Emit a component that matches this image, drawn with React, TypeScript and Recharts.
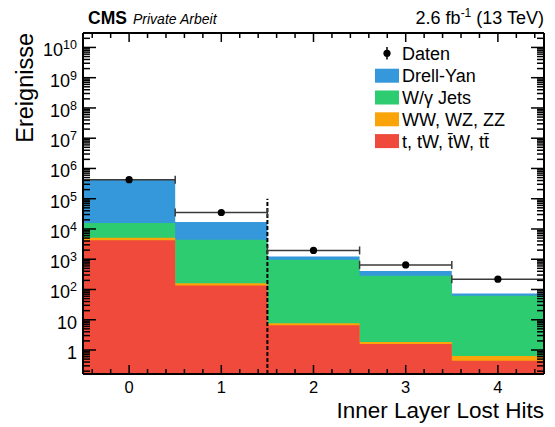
import React from 'react';
import {
  ComposedChart,
  Area,
  Scatter,
  ErrorBar,
  XAxis,
  YAxis,
  ReferenceLine,
} from 'recharts';

// Histogram binning: one bin per number of lost inner-layer hits
const BIN_EDGES = [-0.5, 0.5, 1.5, 2.5, 3.5, 4.5];
const BIN_CENTERS = [0, 1, 2, 3, 4];

// Event yields per bin
const DATEN = [425000, 35000, 1950, 650, 220];
const DRELL_YAN = [414300, 12600, 275, 123, 11.5];
const W_GAMMA_JETS = [10600, 4240, 947, 280, 60.9];
const DIBOSON = [900, 27, 1.0, 0.26, 0.19];
const TOP = [4200, 135, 6.6, 1.58, 0.44];

// Selection cut drawn as a dashed line
const CUT_X = 1.5;
const CUT_LINE_TOP = 1.0e5;

// Axis ranges and ticks
const X_DOMAIN: [number, number] = [-0.5, 4.5];
const X_MAJOR = [0, 1, 2, 3, 4];
const X_LABELS = ['0', '1', '2', '3', '4'];
const X_MINOR_STEP = 0.2;

const Y_MIN = 0.161;
const Y_MAX = 3.0e10;
const Y_DECADES = [0.1, 1, 10, 1e2, 1e3, 1e4, 1e5, 1e6, 1e7, 1e8, 1e9, 1e10];
const Y_LABELLED = [1, 10, 1e2, 1e3, 1e4, 1e5, 1e6, 1e7, 1e8, 1e9, 1e10];

const COLORS = {
  dy: '#3498db',
  wj: '#2ecc71',
  vv: '#fba40a',
  top: '#ef4a3b',
};

const FONT = '"Liberation Sans", Arial, Helvetica, sans-serif';

// Stacked cumulative table over bin edges (last edge repeats the last bin)
const stackTable = BIN_EDGES.map((x, i) => {
  const b = Math.min(i, BIN_CENTERS.length - 1);
  const top = TOP[b];
  const vv = top + DIBOSON[b];
  const wj = vv + W_GAMMA_JETS[b];
  const dy = wj + DRELL_YAN[b];
  return { x, top, vv, wj, dy };
});

const dataPoints = BIN_CENTERS.map((x, i) => ({ x, y: DATEN[i], xerr: 0.5 }));

// Tick values
const xTicks: number[] = [];
for (let v = X_DOMAIN[0] + 0.1; v < X_DOMAIN[1]; v += X_MINOR_STEP) {
  xTicks.push(Math.round(v * 10) / 10);
}
const yTicks: number[] = [];
Y_DECADES.forEach((d) => {
  for (let m = 1; m <= 9; m++) {
    const v = m * d;
    if (v >= Y_MIN && v <= Y_MAX) yTicks.push(v);
  }
});

const isXMajor = (v: number) => X_MAJOR.some((m) => Math.abs(m - v) < 1e-6);
const isYMajor = (v: number) =>
  Y_LABELLED.some((m) => Math.abs(m - v) / m < 1e-6);

const TICK_STROKE = 1.5;

const BottomTick = (props: any) => {
  const { x, y, payload } = props;
  const v = payload.value;
  const major = isXMajor(v);
  const len = major ? 9 : 5;
  const idx = X_MAJOR.findIndex((m) => Math.abs(m - v) < 1e-6);
  return (
    <g>
      <line x1={x} x2={x} y1={y} y2={y - len} stroke="#000" strokeWidth={TICK_STROKE} />
      {major && (
        <text x={x} y={y + 18.5} textAnchor="middle" fontFamily={FONT} fontSize={16.5} fill="#000">
          {X_LABELS[idx]}
        </text>
      )}
    </g>
  );
};

const TopTick = (props: any) => {
  const { x, y, payload } = props;
  const len = isXMajor(payload.value) ? 9 : 5;
  return <line x1={x} x2={x} y1={y} y2={y + len} stroke="#000" strokeWidth={TICK_STROKE} />;
};

const LeftTick = (props: any) => {
  const { x, y, payload } = props;
  const v = payload.value;
  const major = isYMajor(v);
  const len = major ? 13 : 7;
  let label: React.ReactNode = null;
  if (major) {
    const exp = Math.round(Math.log10(v));
    label = (
      <text x={x - 6} y={y + 9} textAnchor="end" fontFamily={FONT} fontSize={18} fill="#000">
        {exp === 0 ? '1' : exp === 1 ? '10' : (
          <>
            <tspan>10</tspan>
            <tspan dy={-7} fontSize={12.5}>{exp}</tspan>
          </>
        )}
      </text>
    );
  }
  return (
    <g>
      <line x1={x} x2={x + len} y1={y} y2={y} stroke="#000" strokeWidth={TICK_STROKE} />
      {label}
    </g>
  );
};

const RightTick = (props: any) => {
  const { x, y, payload } = props;
  const len = isYMajor(payload.value) ? 13 : 7;
  return <line x1={x} x2={x - len} y1={y} y2={y} stroke="#000" strokeWidth={TICK_STROKE} />;
};

const DataDot = (props: any) => {
  const { cx, cy } = props;
  if (cx == null || cy == null) return null;
  return <circle cx={cx} cy={cy} r={3.6} fill="#000" />;
};

const LEGEND = [
  { label: 'Drell-Yan', color: COLORS.dy },
  { label: 'W/\u03b3 Jets', color: COLORS.wj },
  { label: 'WW, WZ, ZZ', color: COLORS.vv },
  { label: 't, tW, t\u0304W, tt\u0304', color: COLORS.top },
];

const Overlay = () => (
  <svg
    width={555}
    height={427}
    style={{ position: 'absolute', left: 0, top: 0, pointerEvents: 'none' }}
  >
    <g fontFamily={FONT} fill="#000">
      <text x={88} y={24} fontSize={17.5} fontWeight="bold">CMS</text>
      <text x={133} y={24} fontSize={14} fontStyle="italic">Private Arbeit</text>
      <text x={544} y={24} fontSize={18} textAnchor="end">
        <tspan>2.6 fb</tspan>
        <tspan dy={-7} fontSize={12}>-1</tspan>
        <tspan dy={7}> (13 TeV)</tspan>
      </text>

      <text
        transform="translate(33,33) rotate(-90)"
        textAnchor="end"
        fontSize={23.5}
      >
        Ereignisse
      </text>
      <text x={544} y={418} textAnchor="end" fontSize={22.5}>
        Inner Layer Lost Hits
      </text>

      {/* legend */}
      <line x1={387} x2={387} y1={47} y2={59.5} stroke="#000" strokeWidth={1.5} />
      <circle cx={387} cy={53.3} r={3.6} fill="#000" />
      <text x={402} y={59.6} fontSize={18}>Daten</text>
      {LEGEND.map((e, i) => {
        const cy = 75.7 + i * 21.8;
        return (
          <g key={e.label}>
            <rect x={375} y={cy - 7} width={24} height={14} fill={e.color} />
            <text x={402} y={cy + 6.4} fontSize={18}>{e.label}</text>
          </g>
        );
      })}
    </g>
  </svg>
);

export default function App() {
  return (
    <div style={{ position: 'absolute', left: 0, top: 0, width: 555, height: 427, background: '#fff' }}>
      <ComposedChart
        width={555}
        height={427}
        data={stackTable}
        margin={{ top: 0, right: 0, bottom: 0, left: 0 }}
      >
        <XAxis
          xAxisId="b"
          dataKey="x"
          type="number"
          orientation="bottom"
          domain={X_DOMAIN}
          allowDataOverflow
          ticks={xTicks}
          interval={0}
          height={53}
          tickSize={0}
          tickMargin={0}
          tickLine={false}
          axisLine={{ stroke: '#000', strokeWidth: 2 }}
          tick={BottomTick}
        />
        <XAxis
          xAxisId="t"
          dataKey="x"
          type="number"
          orientation="top"
          domain={X_DOMAIN}
          allowDataOverflow
          ticks={xTicks}
          interval={0}
          height={33}
          tickSize={0}
          tickMargin={0}
          tickLine={false}
          axisLine={{ stroke: '#000', strokeWidth: 2 }}
          tick={TopTick}
        />
        <YAxis
          yAxisId="l"
          orientation="left"
          type="number"
          scale="log"
          domain={[Y_MIN, Y_MAX]}
          allowDataOverflow
          ticks={yTicks}
          interval={0}
          width={83}
          tickSize={0}
          tickMargin={0}
          tickLine={false}
          axisLine={{ stroke: '#000', strokeWidth: 2 }}
          tick={LeftTick}
        />
        <YAxis
          yAxisId="r"
          orientation="right"
          type="number"
          scale="log"
          domain={[Y_MIN, Y_MAX]}
          allowDataOverflow
          ticks={yTicks}
          interval={0}
          width={11}
          tickSize={0}
          tickMargin={0}
          tickLine={false}
          axisLine={{ stroke: '#000', strokeWidth: 2 }}
          tick={RightTick}
        />

        <Area
          xAxisId="b"
          yAxisId="l"
          type="stepAfter"
          dataKey="dy"
          baseValue={Y_MIN}
          fill={COLORS.dy}
          fillOpacity={1}
          stroke="none"
          dot={false}
          activeDot={false}
          isAnimationActive={false}
        />
        <Area
          xAxisId="b"
          yAxisId="l"
          type="stepAfter"
          dataKey="wj"
          baseValue={Y_MIN}
          fill={COLORS.wj}
          fillOpacity={1}
          stroke="none"
          dot={false}
          activeDot={false}
          isAnimationActive={false}
        />
        <Area
          xAxisId="b"
          yAxisId="l"
          type="stepAfter"
          dataKey="vv"
          baseValue={Y_MIN}
          fill={COLORS.vv}
          fillOpacity={1}
          stroke="none"
          dot={false}
          activeDot={false}
          isAnimationActive={false}
        />
        <Area
          xAxisId="b"
          yAxisId="l"
          type="stepAfter"
          dataKey="top"
          baseValue={Y_MIN}
          fill={COLORS.top}
          fillOpacity={1}
          stroke="none"
          dot={false}
          activeDot={false}
          isAnimationActive={false}
        />

        <ReferenceLine
          xAxisId="b"
          yAxisId="l"
          segment={[
            { x: CUT_X, y: Y_MIN },
            { x: CUT_X, y: CUT_LINE_TOP },
          ]}
          stroke="#000"
          strokeWidth={2}
          strokeDasharray="4 2"
          ifOverflow="visible"
        />

        <Scatter
          xAxisId="b"
          yAxisId="l"
          data={dataPoints}
          dataKey="y"
          shape={DataDot}
          isAnimationActive={false}
        >
          <ErrorBar dataKey="xerr" direction="x" width={4} stroke="#3a3a3a" strokeWidth={1.5} />
        </Scatter>
      </ComposedChart>
      <Overlay />
    </div>
  );
}
